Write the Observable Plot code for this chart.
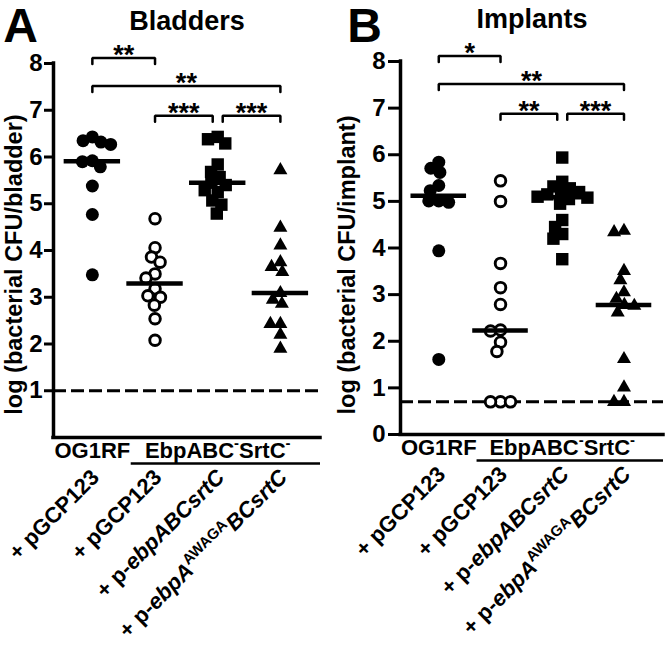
<!DOCTYPE html>
<html><head><meta charset="utf-8">
<script src="https://cdn.jsdelivr.net/npm/d3@7"></script>
<script src="https://cdn.jsdelivr.net/npm/@observablehq/plot@0.6"></script>
<style>
body{margin:0;background:#fff;}
#wrap{display:flex;width:666px;height:651px;overflow:hidden;}
svg{overflow:visible;}
</style></head><body><div id="wrap"></div>
<script>
// ---- data ----
const groups = ["OG1RF + pGCP123", "EbpABC-SrtC- + pGCP123", "EbpABC-SrtC- + p-ebpABCsrtC", "EbpABC-SrtC- + p-ebpA(AWAGA)BCsrtC"];
const tickLabels = ["+ pGCP123", "+ pGCP123", "+ p-_ebpABCsrtC_", "+ p-_ebpA_^AWAGA^_BCsrtC_"];
const groupHeaders = ["OG1RF", "EbpABC^-^SrtC^-^"];
const headerCols = [1, 3];

const og1rfBladder = [6.43, 6.35, 6.32, 6.27, 5.92, 5.90, 5.79, 5.38, 4.77, 3.48];
const emptyBladder = [4.68, 4.06, 3.86, 3.75, 3.50, 3.41, 3.18, 3.03, 3.00, 2.83, 2.54, 2.08];
const ebpBladder = [6.43, 6.38, 6.29, 5.84, 5.68, 5.57, 5.45, 5.40, 5.29, 5.25, 5.07, 4.98, 4.79];
const awagaBladder = [5.72, 4.49, 4.11, 3.75, 3.65, 3.54, 3.09, 2.95, 2.86, 2.43, 2.43, 2.20, 1.90];

const og1rfImplant = [5.84, 5.71, 5.62, 5.34, 5.23, 5.01, 5.01, 4.98, 3.94, 1.61];
const emptyImplant = [5.44, 5.00, 3.67, 3.15, 2.79, 2.24, 2.22, 1.98, 1.78, 0.70, 0.70, 0.70];
const ebpImplant = [5.94, 5.42, 5.32, 5.28, 5.20, 5.18, 5.15, 5.10, 5.08, 5.05, 4.95, 4.60, 4.45, 4.30, 4.20, 3.76];
const awagaImplant = [4.37, 4.34, 3.51, 3.31, 3.05, 2.91, 2.78, 2.76, 2.62, 1.62, 1.01, 0.70, 0.70];

// [from group, to group, label, row]
const bladderBrackets = [[1, 2, "**", 0], [1, 4, "**", 1], [2, 3, "***", 2], [3, 4, "***", 2]];
const implantBrackets = [[1, 2, "*", 0], [1, 4, "**", 1], [2, 3, "**", 2], [3, 4, "***", 2]];

const bladderTicks = [1, 2, 3, 4, 5, 6, 7, 8];
const implantTicks = [0, 1, 2, 3, 4, 5, 6, 7, 8];

// ---- layout ----
const FONT = "'Liberation Sans', Arial, Helvetica, sans-serif";
const panels = [
  {letter: "A", title: "Bladders", yLabel: "log (bacterial CFU/bladder)",
   series: [og1rfBladder, emptyBladder, ebpBladder, awagaBladder], limit: 1,
   brackets: bladderBrackets, ticks: bladderTicks, tickSize: 9, tickPad: 2,
   ml: 53, mr: 13, mt: 63, mb: 214, letterDx: -33, letterDy: -37, labelDx: -39, labelDy: 14},
  {letter: "B", title: "Implants", yLabel: "log (bacterial CFU/implant)",
   series: [og1rfImplant, emptyImplant, ebpImplant, awagaImplant], limit: 0.7,
   brackets: implantBrackets, ticks: implantTicks, tickSize: 12, tickPad: 3,
   ml: 67, mr: 3, mt: 61, mb: 217, letterDx: -36, letterDy: -35, labelDx: -53, labelDy: 17}
];
const styles = [
  {symbol: "circle", r: 6.5, fill: "black"},
  {symbol: "circle", r: 5.3, fill: "white", stroke: "black", strokeWidth: 2.9},
  {symbol: "square", r: 7, fill: "black"},
  {symbol: "triangle", r: 5.2, fill: "black"}
];
const W = 333, H = 651, X0 = 0.38, X1 = 4.64;
const rowY = [8.12, 7.52, 6.88];

function swarm(values, D, kx, ky) {
  const placed = [];
  return values.map(v => {
    const y = v * ky;
    const cands = [0];
    for (const p of placed) {
      const dy = Math.abs(p.y - y);
      if (dy < D) { const w = Math.sqrt(D * D - dy * dy); cands.push(p.x - w, p.x + w); }
    }
    cands.sort((a, b) => Math.abs(a) - Math.abs(b) || a - b);
    const x = cands.find(c => placed.every(p => (p.x - c) ** 2 + (p.y - y) ** 2 >= D * D - 1e-6));
    placed.push({x, y});
    return x / kx;
  });
}

const strip = s => s.replace(/[_^]/g, "");
function rich(el, markup, fs) {
  while (el.firstChild) el.removeChild(el.firstChild);
  const segs = []; let it = false, sup = false, buf = "";
  for (const ch of markup) {
    if (ch === "_" || ch === "^") {
      if (buf) segs.push({t: buf, it, sup}); buf = "";
      if (ch === "_") it = !it; else sup = !sup;
    } else buf += ch;
  }
  if (buf) segs.push({t: buf, it, sup});
  let shifted = false;
  for (const s of segs) {
    const ts = document.createElementNS("http://www.w3.org/2000/svg", "tspan");
    ts.textContent = s.t;
    if (s.it) ts.setAttribute("font-style", "italic");
    if (s.sup) {
      ts.setAttribute("font-size", 0.68 * fs);
      if (!shifted) { ts.setAttribute("dy", -0.42 * fs); shifted = true; }
    } else if (shifted) { ts.setAttribute("dy", 0.42 * fs); shifted = false; }
    el.appendChild(ts);
  }
}

function makePanel(p) {
  const kx = (W - p.ml - p.mr) / (X1 - X0);
  const ky = (H - p.mt - p.mb) / 8;
  const dotMarks = p.series.map((vals, i) => {
    const off = swarm(vals, 10, kx, ky);
    const rows = vals.map((v, j) => ({x: i + 1 + off[j], v}));
    return Plot.dot(rows, {x: "x", y: "v", ...styles[i]});
  });
  const medians = p.series.map((vals, i) => ({i: i + 1, m: d3.median(vals)}));
  // brackets
  const leg = 6 / ky, gap = 5 / kx;
  const br = p.brackets.map(([a, b, label, row], k) => {
    let xa = a, xb = b;
    if (p.brackets.some(([a2, b2, , r2]) => r2 === row && b2 === a)) xa += gap;
    if (p.brackets.some(([a2, b2, , r2]) => r2 === row && a2 === b)) xb -= gap;
    return {k, xa, xb, y: rowY[row], label};
  });
  const brPts = br.flatMap(d => [
    {k: d.k, x: d.xa, y: d.y - leg}, {k: d.k, x: d.xa, y: d.y},
    {k: d.k, x: d.xb, y: d.y}, {k: d.k, x: d.xb, y: d.y - leg}]);

  const svg = Plot.plot({
    width: W, height: H,
    marginLeft: p.ml, marginRight: p.mr, marginTop: p.mt, marginBottom: p.mb,
    x: {domain: [X0, X1], axis: null},
    y: {domain: [0, 8]},
    style: {fontFamily: FONT, fontWeight: "bold", fontSize: "22px", color: "black", background: "white"},
    marks: [
      Plot.ruleY([p.limit], {x1: X0, x2: X1, strokeWidth: 3, strokeDasharray: "13,5"}),
      ...dotMarks,
      Plot.ruleY(medians, {y: "m", x1: d => d.i - 0.45, x2: d => d.i + 0.45, strokeWidth: 4.5}),
      Plot.ruleX([X0], {y1: 0, y2: 8, strokeWidth: 3.5, strokeLinecap: "square"}),
      Plot.ruleY([0], {x1: X0, x2: X1, strokeWidth: 3.5, strokeLinecap: "square"}),
      Plot.axisY({ticks: p.ticks, tickSize: p.tickSize, tickPadding: p.tickPad, strokeWidth: 3, fontSize: 24, fontWeight: "bold", label: null}),
      Plot.line(brPts, {x: "x", y: "y", z: "k", strokeWidth: 2.5, strokeLinejoin: "miter", curve: "linear"}),
      Plot.text(br, {x: d => (d.xa + d.xb) / 2, y: "y", text: "label", lineAnchor: "bottom", dy: 6, fontSize: 27}),
      Plot.text([p.title], {frameAnchor: "top", textAnchor: "middle", lineAnchor: "middle", dy: -42, fontSize: 27, text: d => d}),
      Plot.text([p.letter], {frameAnchor: "top-left", textAnchor: "middle", lineAnchor: "middle", dx: p.letterDx, dy: p.letterDy, fontSize: 48, text: d => d}),
      Plot.text([p.yLabel], {frameAnchor: "left", textAnchor: "middle", lineAnchor: "middle", rotate: -90, dx: p.labelDx, dy: p.labelDy, fontSize: 23.5, text: d => d}),
      Plot.text(groupHeaders.map((t, i) => ({x: headerCols[i], t})), {x: "x", text: d => strip(d.t), frameAnchor: "bottom", lineAnchor: "bottom", dy: 20, fontSize: 22}),
      Plot.ruleY([0], {x1: 1.62, x2: X1, dy: 26, strokeWidth: 2.5}),
      Plot.text(tickLabels.map((t, i) => ({x: i + 1, t})), {x: "x", text: d => strip(d.t), frameAnchor: "bottom", rotate: -45, textAnchor: "end", lineAnchor: "middle", dx: 3, dy: 36, fontSize: 22})
    ]
  });
  const map = new Map([...tickLabels, ...groupHeaders].map(m => [strip(m), m]));
  svg.querySelectorAll("text").forEach(el => {
    const m = map.get(el.textContent);
    if (m && m !== strip(m)) rich(el, m, 22);
  });
  return svg;
}

const wrap = document.getElementById("wrap");
panels.forEach(p => wrap.append(makePanel(p)));
</script></body></html>
